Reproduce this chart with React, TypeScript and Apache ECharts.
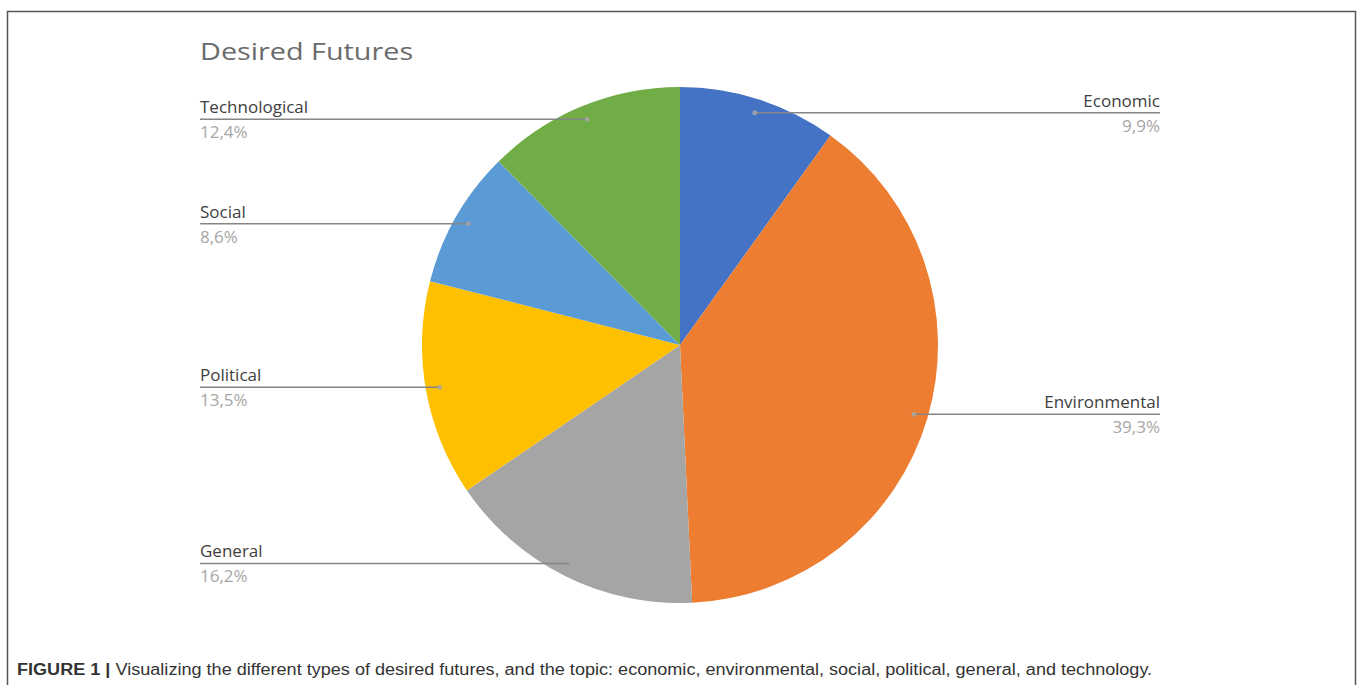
import React, { useEffect, useRef } from "react";
import * as echarts from "echarts";

const categories = ["Economic", "Environmental", "General", "Political", "Social", "Technological"];
const values = [9.9, 39.3, 16.2, 13.5, 8.6, 12.4];
const colors = ["#4472C4", "#ED7D31", "#A5A5A5", "#FFC000", "#5B9BD5", "#70AD47"];
const chartTitle = "Desired Futures";
const captionBold = "FIGURE 1 |";
const captionText =
  " Visualizing the different types of desired futures, and the topic: economic, environmental, social, political, general, and technology.";

const CX = 680;
const CY = 345;
const R = 258;
const DOT_R = 244;
const LEFT_X = 200;
const RIGHT_X = 1160;

export default function App() {
  const ref = useRef<HTMLDivElement>(null);
  useEffect(() => {
    document.body.style.margin = "0";
    const chart = echarts.init(ref.current!, undefined, { renderer: "svg" });
    const fmt = (v: number) => v.toFixed(1).replace(".", ",") + "%";
    const total = values.reduce((a, b) => a + b, 0);
    let acc = 0;
    const dots = values.map((v) => {
      const mid = acc + v / 2;
      acc += v;
      return [DOT_R, (mid / total) * 100];
    });
    const pieData = categories.map((c, i) => ({ name: c, value: values[i], itemStyle: { color: colors[i] } }));
    chart.setOption({
      animation: false,
      backgroundColor: "#ffffff",
      polar: { center: [CX, CY], radius: [0, R] },
      angleAxis: { type: "value", min: 0, max: 100, startAngle: 90, clockwise: true, show: false },
      radiusAxis: { type: "value", min: 0, max: R, show: false },
      graphic: [
        {
          type: "polyline",
          shape: { points: [[7.5, 690], [7.5, 11.5], [1355.5, 11.5], [1355.5, 690]] },
          style: { stroke: "#555555", lineWidth: 1.5, fill: null },
        },
        {
          type: "text",
          x: 200,
          y: 51,
          scaleX: 1.2,
          style: {
            text: chartTitle,
            font: "24px 'Open Sans'",
            fill: "#6b6b6b",
            verticalAlign: "middle",
          },
        },
        {
          type: "text",
          x: 17,
          y: 670,
          scaleX: 1.13,
          style: {
            text: `{b|${captionBold}}{r|${captionText}}`,
            verticalAlign: "middle",
            rich: {
              b: { fontFamily: "Liberation Sans", fontSize: 16, fontWeight: "bold", fill: "#333333" },
              r: { fontFamily: "Liberation Sans", fontSize: 16, fill: "#333333" },
            },
          },
        },
      ],
      series: [
        {
          type: "pie",
          center: [CX, CY],
          radius: R,
          startAngle: 90,
          clockwise: true,
          silent: true,
          z: 1,
          data: pieData,
          itemStyle: { borderWidth: 0 },
          label: { show: false },
          labelLine: { show: false },
        },
        {
          type: "pie",
          center: [CX, CY],
          radius: R,
          startAngle: 90,
          clockwise: true,
          silent: true,
          z: 5,
          avoidLabelOverlap: false,
          data: pieData.map((d) => ({ ...d, itemStyle: { color: "rgba(0,0,0,0)" } })),
          itemStyle: { borderWidth: 0 },
          label: {
            show: true,
            position: "outside",
            formatter: (p: any) => `{n|${p.name}}\n{v|${fmt(p.value)}}`,
            rich: {
              n: { fontFamily: "Open Sans", fontSize: 17, color: "#404040", lineHeight: 25 },
              v: { fontFamily: "Open Sans", fontSize: 17, color: "#a6a6a6", lineHeight: 25 },
            },
          },
          labelLine: { show: true, lineStyle: { color: "#858585", width: 1.5 } },
          labelLayout: (params: any) => {
            const p0 = params.labelLinePoints[0];
            const k = DOT_R / R;
            const dx = CX + (p0[0] - CX) * k;
            const dy = CY + (p0[1] - CY) * k;
            const right = p0[0] > CX;
            const ex = right ? RIGHT_X : LEFT_X;
            return {
              x: ex,
              y: dy,
              align: right ? "right" : "left",
              verticalAlign: "middle",
              labelLinePoints: [[dx, dy], [(dx + ex) / 2, dy], [ex, dy]],
            };
          },
        },
        {
          type: "scatter",
          coordinateSystem: "polar",
          silent: true,
          z: 6,
          symbol: "circle",
          symbolSize: 5,
          itemStyle: { color: "#a6a6a6" },
          data: dots,
        },
      ],
    });
    return () => chart.dispose();
  }, []);
  return <div ref={ref} style={{ width: 1358, height: 685 }} />;
}
